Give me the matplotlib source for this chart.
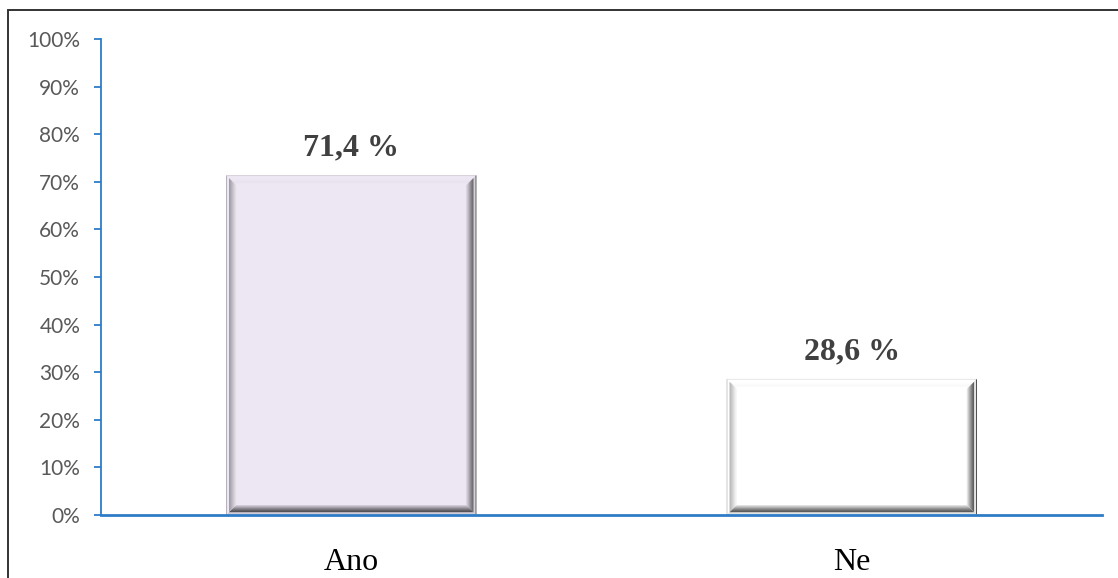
import matplotlib
matplotlib.use("Agg")
import matplotlib.pyplot as plt
from matplotlib.patches import Polygon, Rectangle
from matplotlib.ticker import FixedLocator
from matplotlib.colors import to_rgb

categories = ["Ano", "Ne"]
values = [71.4, 28.6]
value_labels = ["71,4 %", "28,6 %"]
y_ticks = [0, 10, 20, 30, 40, 50, 60, 70, 80, 90, 100]
y_tick_labels = [f"{t}%" for t in y_ticks]

BLUE = "#2E7CC8"
fills = ["#EDE7F3", "#FFFFFF"]


def tint(gray_hex, base_hex):
    """Shade a grey level by the bar's base colour (multiply blend)."""
    g = to_rgb(gray_hex)
    b = to_rgb(base_hex)
    return tuple(gi * bi for gi, bi in zip(g, b))


# bevel shading in grey levels, outer -> inner stripes
# stripe 0: thin frame, stripes 1-2: gap, stripes 3+: raised bevel
bevel_gray = {
    "top":    ["#e4e4e4", "#ffffff", "#ffffff", "#ffffff", "#fefefe", "#fcfcfc",
               "#fbfbfb", "#fafafa", "#ffffff", "#ffffff"],
    "left":   ["#bcbcbc", "#ffffff", "#ffffff", "#a4a4a4", "#afafaf", "#bdbdbd",
               "#cbcbcb", "#d8d8d8", "#e6e6e6", "#f2f2f2"],
    "right":  ["#3a3a3a", "#e6e6e6", "#d6d6d6", "#4c4c4c", "#606060", "#777777",
               "#909090", "#aaaaaa", "#c4c4c4", "#dedede"],
    "bottom": ["#eeeeee", "#e2e2e2", "#c6c6c6", "#5c5c5c", "#6c6c6c", "#808080",
               "#979797", "#b0b0b0", "#c8c8c8", "#e0e0e0"],
}

fig = plt.figure(figsize=(11.18, 5.78), dpi=100)
fig.patch.set_facecolor("white")

# outer frame of the chart area
fig.add_artist(Rectangle((8 / 1118, -0.1), 1.2, (578 - 10) / 578 + 0.1,
                         transform=fig.transFigure, fill=False,
                         edgecolor="#333333", linewidth=1.4))

ax = fig.add_axes([101 / 1118, 63 / 578, 1001 / 1118, 476 / 578])
ax.set_xlim(-0.5, len(categories) - 0.5)
ax.set_ylim(0, 100)

x = list(range(len(categories)))
bars = ax.bar(x, values, width=0.5, color=fills, edgecolor="none", zorder=2)

inv = ax.transData.inverted()


def quad(pts, color):
    data_pts = inv.transform(pts)
    ax.add_patch(Polygon(data_pts, closed=True, facecolor=color,
                         edgecolor="none", zorder=3, clip_on=False))


for patch, base in zip(bars, fills):
    (x0, y0), (x1, y1) = ax.transData.transform(
        [(patch.get_x(), patch.get_y()),
         (patch.get_x() + patch.get_width(), patch.get_y() + patch.get_height())])
    n = len(bevel_gray["top"])
    for i in range(n):
        a0, b0, a1, b1 = x0 + i, y0 + i, x1 - i, y1 - i
        quad([(a0, b1), (a1, b1), (a1 - 1, b1 - 1), (a0 + 1, b1 - 1)],
             tint(bevel_gray["top"][i], base))
        quad([(a0, b0), (a1, b0), (a1 - 1, b0 + 1), (a0 + 1, b0 + 1)],
             tint(bevel_gray["bottom"][i], base))
        quad([(a0, b0), (a0, b1), (a0 + 1, b1 - 1), (a0 + 1, b0 + 1)],
             tint(bevel_gray["left"][i], base))
        quad([(a1, b0), (a1, b1), (a1 - 1, b1 - 1), (a1 - 1, b0 + 1)],
             tint(bevel_gray["right"][i], base))

for xi, v, lab in zip(x, values, value_labels):
    ax.annotate(lab, (xi, v), xytext=(0, 27), textcoords="offset pixels",
                ha="center", va="center", fontsize=23, fontweight="bold",
                family="Liberation Serif", color="#404040", zorder=4)

# axes styling
for side in ("top", "right"):
    ax.spines[side].set_visible(False)
ax.spines["left"].set_color(BLUE)
ax.spines["left"].set_linewidth(1.3)
ax.spines["bottom"].set_color(BLUE)
ax.spines["bottom"].set_linewidth(2.0)
ax.spines["bottom"].set_zorder(5)

ax.yaxis.set_major_locator(FixedLocator(y_ticks))
ax.set_yticklabels(y_tick_labels, family="Lato", fontsize=15, color="#595959")
ax.tick_params(axis="y", direction="out", length=5, width=1.3, color=BLUE, pad=10)

ax.set_xticks(x)
ax.set_xticklabels(categories, family="Liberation Serif", fontsize=23, color="#000000")
ax.tick_params(axis="x", length=0, pad=24)

ax.set_facecolor("white")

fig.savefig("out.png", dpi=100)
